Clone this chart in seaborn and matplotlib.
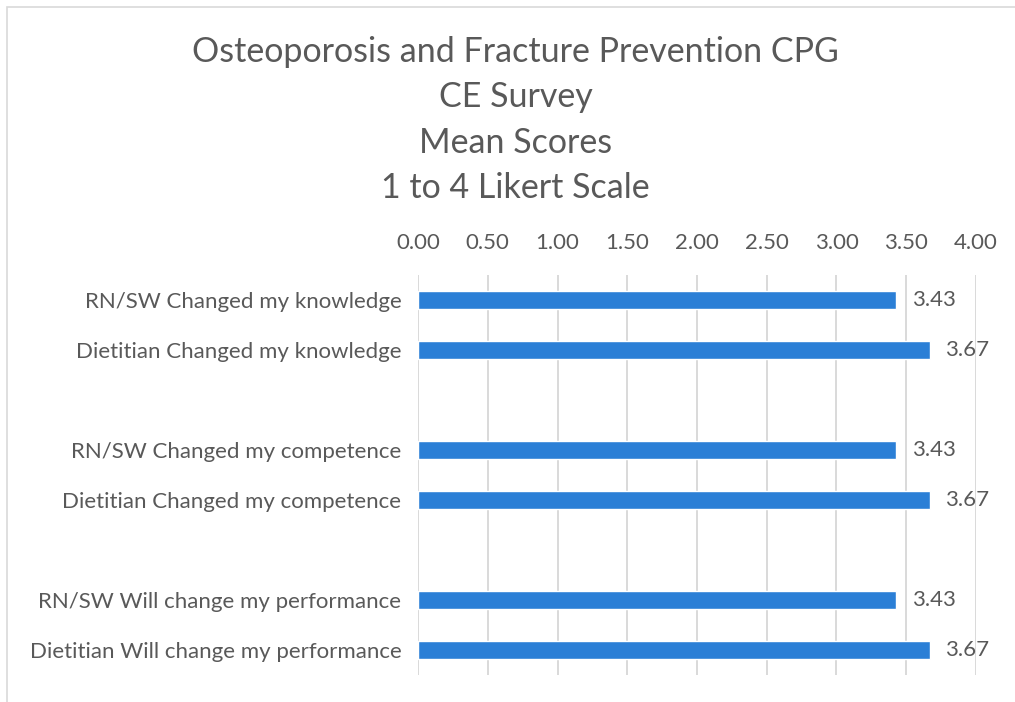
import numpy as np
import pandas as pd
import matplotlib.pyplot as plt
import seaborn as sns
from matplotlib.patches import Rectangle

# chart data
title_lines = ['Osteoporosis and Fracture Prevention CPG', 'CE Survey', 'Mean Scores', '1 to 4 Likert Scale']
categories = ['RN/SW Changed my knowledge', 'Dietitian Changed my knowledge', ' ',
              'RN/SW Changed my competence', 'Dietitian Changed my competence', '  ',
              'RN/SW Will change my performance', 'Dietitian Will change my performance']
scores = [3.43, 3.67, np.nan, 3.43, 3.67, np.nan, 3.43, 3.67]
x_ticks = [0.0, 0.5, 1.0, 1.5, 2.0, 2.5, 3.0, 3.5, 4.0]

sns.set_style('white')
plt.rcParams['font.family'] = ['Lato', 'DejaVu Sans']
text_col = '#595959'
bar_col = '#2B7FD6'

df = pd.DataFrame({'item': categories, 'score': scores})

fig = plt.figure(figsize=(10.15, 7.02), dpi=100)
ax = fig.add_axes([418 / 1015, 1 - 675 / 702, 558 / 1015, 400 / 702])

sns.barplot(data=df, x='score', y='item', order=categories, color=bar_col,
            saturation=1, width=0.36, ax=ax, errorbar=None)

for c in ax.containers:
    labels = ['' if np.isnan(v) else f'{v:.2f}' for v in c.datavalues]
    ax.bar_label(c, labels=labels, padding=11, fontsize=16, color=text_col)

ax.set_xlim(0, 4)
ax.set_xticks(x_ticks)
ax.set_xticklabels([f'{t:.2f}' for t in x_ticks], fontsize=16, color=text_col)
ax.xaxis.tick_top()
ax.tick_params(axis='x', length=0, pad=16)
ax.tick_params(axis='y', length=0, pad=12, labelsize=16, labelcolor=text_col)
ax.set_xlabel('')
ax.set_ylabel('')
ax.grid(axis='x', color='#D9D9D9', linewidth=1.4)
ax.set_axisbelow(True)
for s in ax.spines.values():
    s.set_visible(False)

fig.text(0.508, 1 - 120 / 702, '\n'.join(title_lines), ha='center', va='center',
         fontsize=24.5, color=text_col, linespacing=1.51)

# outer chart border (partly cut off in the reference)
fig.patches.append(Rectangle((7 / 1015, -0.1), 1.2, 1.1 - 7 / 702, transform=fig.transFigure,
                             fill=False, edgecolor='#D9D9D9', linewidth=1.2))

fig.savefig('out.png', dpi=100)
